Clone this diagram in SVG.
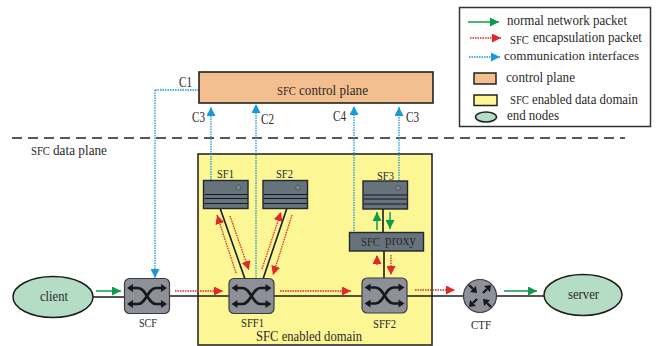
<svg xmlns="http://www.w3.org/2000/svg" width="657" height="346" viewBox="0 0 657 346">
<style>
text{font-family:"Liberation Serif","Times New Roman",serif;fill:#2a2a2a;font-size:14.500px}
.s{font-size:12.500px}
.line{stroke:#1c1c1c;stroke-width:1.600;fill:none}
.g{stroke:#0a9c4a;stroke-width:1.500;fill:none;marker-end:url(#ag)}
.r{stroke:#e0282a;stroke-width:1.300;stroke-dasharray:1.500 1;fill:none;marker-end:url(#ar)}
.b{stroke:#1a98dc;stroke-width:1.300;stroke-dasharray:1.500 1;fill:none;marker-end:url(#ab)}
.bn{stroke:#1a98dc;stroke-width:1.300;stroke-dasharray:1.500 1;fill:none}
.sw{fill:#8d9098;stroke:#3a3c42;stroke-width:1.200}
.sv{fill:#66737d;stroke:#22282c;stroke-width:1.400}
.bar{stroke:#15181a;stroke-width:1}
.end{fill:#b5dcc5;stroke:#1c1c1c;stroke-width:1.500}
.ar{stroke:#17181a;stroke-width:2.600;fill:none}
</style>
<defs>
<marker id="ag" markerUnits="userSpaceOnUse" markerWidth="10" markerHeight="9" refX="9" refY="4.500" orient="auto"><path d="M0 0L9 4.500L0 9z" fill="#0a9c4a"/></marker>
<marker id="ar" markerUnits="userSpaceOnUse" markerWidth="10" markerHeight="9" refX="9" refY="4.500" orient="auto"><path d="M0 0L9 4.500L0 9z" fill="#e0282a"/></marker>
<marker id="ab" markerUnits="userSpaceOnUse" markerWidth="10" markerHeight="9" refX="9" refY="4.500" orient="auto"><path d="M0 0L9 4.500L0 9z" fill="#1a98dc"/></marker>
<g id="swi">
<rect class="sw" x="-22.500" y="-17.500" width="45" height="35" rx="5"/>
<path class="ar" d="M-15 -8H-9C-1 -8 1 8 9 8H15"/>
<path class="ar" d="M-15 8H-9C-1 8 1 -8 9 -8H15"/>
<path d="M-14 -12L-20 -8L-14 -4zM-14 4L-20 8L-14 12zM14 -12L20 -8L14 -4zM14 4L20 8L14 12z" fill="#17181a"/>
</g>
<g id="srv">
<rect class="sv" x="0" y="0" width="44.500" height="28"/>
<circle cx="35" cy="7" r="2.500" fill="#7c858c" stroke="#4a5258" stroke-width="0.800"/>
<path class="bar" d="M1 14H44M1 18H44M1 23H44"/>
</g>
</defs>

<g id="domain"><rect x="198" y="154" width="234" height="191" fill="#fdf695" stroke="#2a2a2a" stroke-width="1.600"/><text x="256" y="341" textLength="106" lengthAdjust="spacingAndGlyphs">SFC enabled domain</text></g>

<g id="connectors">
<path class="line" d="M93 297H125M169 296H229M274 296H362M407 296H464M496 296H544"/>
<path class="line" d="M220 208L245 279M287 208L263 279M383 208V232M384 251V278"/>
<path stroke="#222" stroke-width="1.500" stroke-dasharray="10 6" d="M12 138H625"/>
<path class="bn" d="M199 90H155"/>
<path class="b" d="M155 90V278"/>
<path class="b" d="M211 180V107"/>
<path class="b" d="M256 279V104"/>
<path class="b" d="M354 231V106"/>
<path class="b" d="M399 181V107"/>
<path class="g" d="M96 291H121"/>
<path class="g" d="M504 291H537"/>
<path class="g" d="M377 230V212"/>
<path class="g" d="M390 212V229"/>
<path class="r" d="M175 291H223"/>
<path class="r" d="M280 291H351"/>
<path class="r" d="M415 290H455"/>
<path class="r" d="M377 265V255"/>
<path class="r" d="M391 255V275"/>
<path class="r" d="M236 273L217 215"/>
<path class="r" d="M230 216L249 270"/>
<path class="r" d="M262 269L281 212"/>
<path class="r" d="M292 215L273 275"/>
</g>

<g id="control-plane"><rect x="199" y="72" width="234" height="31" fill="#f4bf8e" stroke="#222" stroke-width="1.600"/><text x="277" y="95" class="s" textLength="19" lengthAdjust="spacingAndGlyphs">SFC</text><text x="299" y="95" textLength="69" lengthAdjust="spacingAndGlyphs">control plane</text></g>
<g id="C-labels">
<text x="179" y="87" textLength="13" lengthAdjust="spacingAndGlyphs">C1</text><text x="192" y="122" textLength="13" lengthAdjust="spacingAndGlyphs">C3</text><text x="261" y="124" textLength="13" lengthAdjust="spacingAndGlyphs">C2</text><text x="333" y="121" textLength="13" lengthAdjust="spacingAndGlyphs">C4</text><text x="406" y="122" textLength="13" lengthAdjust="spacingAndGlyphs">C3</text>
<text x="31" y="155" class="s" textLength="19" lengthAdjust="spacingAndGlyphs">SFC</text><text x="53" y="155" textLength="54" lengthAdjust="spacingAndGlyphs">data plane</text>
</g>

<g id="client"><ellipse class="end" cx="53" cy="297" rx="40" ry="20.500"/><text x="40" y="301" textLength="28" lengthAdjust="spacingAndGlyphs">client</text></g>
<g id="SCF"><use href="#swi" x="147" y="296"/><text x="139" y="327" class="s" textLength="18" lengthAdjust="spacingAndGlyphs">SCF</text></g>
<g id="SFF1"><use href="#swi" x="251.500" y="296"/><text x="241" y="327" class="s" textLength="23" lengthAdjust="spacingAndGlyphs">SFF1</text></g>
<g id="SFF2"><use href="#swi" x="384.500" y="295.500"/><text x="373" y="328" class="s" textLength="23" lengthAdjust="spacingAndGlyphs">SFF2</text></g>
<g id="CTF"><circle cx="480" cy="296" r="16.500" fill="#8d9098" stroke="#3a3c42" stroke-width="1.200"/>
<path stroke="#17181a" stroke-width="2.400" d="M483 293L487 289M477 299L473 303M473 289L469 285M487 303L491 307"/>
<path fill="#17181a" d="M491 285L484 286L490 292zM469 307L470 300L476 306zM477 293L476 286L470 292zM483 299L484 306L490 300z"/>
<text x="471" y="329" class="s" textLength="20" lengthAdjust="spacingAndGlyphs">CTF</text></g>
<g id="server"><ellipse class="end" cx="583" cy="295" rx="39" ry="20.500"/><text x="568" y="299" textLength="31" lengthAdjust="spacingAndGlyphs">server</text></g>

<g id="SF1"><use href="#srv" x="203.500" y="180.500"/><text x="217" y="178" class="s" textLength="17" lengthAdjust="spacingAndGlyphs">SF1</text></g>
<g id="SF2"><use href="#srv" x="263" y="180.500"/><text x="276" y="178" class="s" textLength="17" lengthAdjust="spacingAndGlyphs">SF2</text></g>
<g id="SF3"><use href="#srv" x="363" y="181"/><text x="377" y="180" class="s" textLength="17" lengthAdjust="spacingAndGlyphs">SF3</text></g>
<g id="proxy"><rect x="349.500" y="232.500" width="74" height="18.500" fill="#66737d" stroke="#22282c" stroke-width="1.400"/><text x="361" y="246" textLength="19" lengthAdjust="spacingAndGlyphs" class="s">SFC</text><text x="385" y="245" textLength="31" lengthAdjust="spacingAndGlyphs">proxy</text></g>

<g id="legend">
<rect x="459.500" y="7.500" width="191" height="119" fill="#fff" stroke="#333" stroke-width="1.500"/>
<path class="g" d="M468 22H499"/><text x="507" y="25" textLength="120" lengthAdjust="spacingAndGlyphs">normal network packet</text>
<path class="r" d="M470 38H501"/><text x="510" y="44" class="s" textLength="19" lengthAdjust="spacingAndGlyphs">SFC</text><text x="533" y="42" textLength="109" lengthAdjust="spacingAndGlyphs">encapsulation packet</text>
<path class="b" d="M469 57H500"/><text x="504" y="60" style="font-size:13.500px" textLength="135" lengthAdjust="spacingAndGlyphs">communication interfaces</text>
<rect x="474" y="73" width="22" height="11" fill="#f4bf8e" stroke="#222" stroke-width="1.500"/><text x="506" y="82" textLength="69" lengthAdjust="spacingAndGlyphs">control plane</text>
<rect x="474" y="95" width="23" height="10.500" fill="#fdf695" stroke="#222" stroke-width="1.500"/><text x="510" y="104" class="s" textLength="19" lengthAdjust="spacingAndGlyphs">SFC</text><text x="532" y="104" textLength="106" lengthAdjust="spacingAndGlyphs">enabled data domain</text>
<ellipse cx="486" cy="117" rx="10.500" ry="5" fill="#b5dcc5" stroke="#222" stroke-width="1.500"/><text x="507" y="120" textLength="52" lengthAdjust="spacingAndGlyphs">end nodes</text>
</g>
</svg>
